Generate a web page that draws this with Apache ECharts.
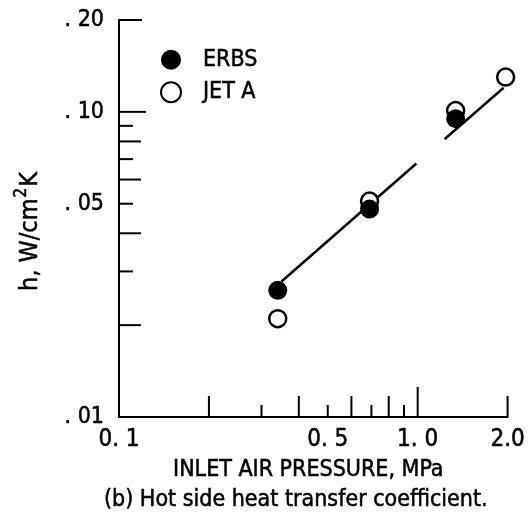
<!DOCTYPE html>
<html>
<head>
<meta charset="utf-8">
<script src="https://cdn.jsdelivr.net/npm/echarts@6/dist/echarts.min.js"></script>
<style>
  html, body { margin: 0; padding: 0; background: #fff; }
  #chart { width: 528px; height: 524px; }
</style>
</head>
<body>
<div id="chart"></div>
<script>
// Inlet air pressure (MPa) and hot side heat transfer coefficient (W/cm^2 K)
const erbsPressure = [0.34, 0.69, 1.34];
const erbsCoeff    = [0.026, 0.048, 0.095];
const jetPressure  = [0.34, 0.69, 1.34, 1.97];
const jetCoeff     = [0.021, 0.051, 0.101, 0.130];

// Correlation line, drawn as two pieces
const fitPressureA = [0.35, 0.99];
const fitCoeffA    = [0.0278, 0.0677];
const fitPressureB = [1.23, 1.94];
const fitCoeffB    = [0.0813, 0.120];

// Axis ranges, ticks and labels
const xRange = [0.1, 2.0];
const yRange = [0.01, 0.20];
const xTicksMain  = [1.0];
const xTicksLong  = [0.2, 0.4, 0.6, 0.8, 2.0];
const xTicksShort = [0.3, 0.5, 0.7, 0.9];
const yTicksMain  = [0.10];
const yTicksTop   = [0.20];
const yTicksLong  = [0.02, 0.04, 0.06, 0.08];
const yTicksShort = [0.03, 0.05, 0.07, 0.09];
const xLabels = [0.1, 0.5, 1.0, 2.0];
const xLabelText = ['0. 1', '0. 5', '1. 0', '2.0'];
const yLabels = [0.01, 0.05, 0.10, 0.20];
const yLabelText = ['. 01', '. 05', '. 10', '. 20'];

const FONT = "'DejaVu Sans Condensed', 'Liberation Sans Narrow', sans-serif";
const NARROW = "'Liberation Sans Narrow', 'DejaVu Sans Condensed', sans-serif";
const INK = '#000';
const HEAVY = { textBorderColor: INK, textBorderWidth: 0.5 };

function zip(xs, ys) { return xs.map((x, i) => [x, ys[i]]); }

// Tick marks drawn inward from the axis lines
function xTickSeries(values, len) {
  return {
    type: 'custom', coordinateSystem: 'cartesian2d', silent: true, z: 1,
    data: values.map(v => [v, yRange[0]]),
    renderItem: function (params, api) {
      const p = api.coord([api.value(0), api.value(1)]);
      return { type: 'line', shape: { x1: p[0], y1: p[1], x2: p[0], y2: p[1] - len },
               style: { stroke: INK, lineWidth: 2 } };
    }
  };
}
function yTickSeries(values, len) {
  return {
    type: 'custom', coordinateSystem: 'cartesian2d', silent: true, z: 1,
    data: values.map(v => [xRange[0], v]),
    renderItem: function (params, api) {
      const p = api.coord([api.value(0), api.value(1)]);
      return { type: 'line', shape: { x1: p[0], y1: p[1], x2: p[0] + len, y2: p[1] },
               style: { stroke: INK, lineWidth: 2 } };
    }
  };
}

function fmt(values, texts) {
  return function (v) {
    for (let i = 0; i < values.length; i++) {
      if (Math.abs(v - values[i]) < values[i] * 1e-3) return texts[i];
    }
    return '';
  };
}

const chart = echarts.init(document.getElementById('chart'), null, { renderer: 'canvas' });
chart.setOption({
  animation: false,
  backgroundColor: '#fff',
  textStyle: { fontFamily: FONT, color: INK },
  title: {
    text: '(b) Hot side heat transfer coefficient.',
    left: 99, top: 484,
    textStyle: Object.assign({ fontFamily: FONT, fontSize: 23, fontWeight: 'normal', color: INK }, HEAVY)
  },
  legend: {
    data: ['ERBS', 'JET A'],
    orient: 'vertical',
    left: 155, top: 43,
    itemWidth: 20, itemHeight: 20, itemGap: 9,
    icon: 'circle',
    textStyle: Object.assign({ fontFamily: NARROW, fontSize: 23, color: INK, padding: [0, 0, 0, 17] }, HEAVY)
  },
  grid: { left: 119, right: 19, top: 20, bottom: 107, containLabel: false },
  xAxis: {
    type: 'log', logBase: 10, min: xRange[0], max: xRange[1],
    name: 'INLET AIR PRESSURE, MPa', nameLocation: 'middle', nameGap: 42,
    nameTextStyle: Object.assign({ fontFamily: FONT, fontSize: 23, color: INK, padding: [0, 10, 0, 0] }, HEAVY),
    axisLine: { show: true, lineStyle: { color: INK, width: 2 } },
    axisTick: { show: false },
    splitLine: { show: false },
    axisLabel: Object.assign({
      customValues: xLabels, formatter: fmt(xLabels, xLabelText),
      margin: 11, fontFamily: NARROW, fontSize: 24, color: INK
    }, HEAVY)
  },
  yAxis: {
    type: 'log', logBase: 10, min: yRange[0], max: yRange[1],
    name: '{a|h, W/cm}{s|2}{a|K}', nameLocation: 'middle', nameRotate: 90, nameGap: 76,
    nameTextStyle: {
      fontFamily: FONT, fontSize: 25, color: INK, padding: [0, 26, 0, 0],
      rich: {
        a: Object.assign({ fontFamily: FONT, fontSize: 25, color: INK, lineHeight: 30, verticalAlign: 'bottom' }, HEAVY),
        s: Object.assign({ fontFamily: FONT, fontSize: 17, color: INK, lineHeight: 17, verticalAlign: 'top', padding: [0, 1, 0, 1] }, HEAVY)
      }
    },
    axisLine: { show: true, lineStyle: { color: INK, width: 2 } },
    axisTick: { show: false },
    splitLine: { show: false },
    axisLabel: Object.assign({
      customValues: yLabels, formatter: fmt(yLabels, yLabelText),
      margin: 15, fontFamily: NARROW, fontSize: 23, color: INK
    }, HEAVY)
  },
  series: [
    xTickSeries(xTicksMain, 30),
    xTickSeries(xTicksLong, 21),
    xTickSeries(xTicksShort, 12),
    yTickSeries(yTicksMain, 27),
    yTickSeries(yTicksTop, 23),
    yTickSeries(yTicksLong, 22),
    yTickSeries(yTicksShort, 14),
    {
      name: 'fitA', type: 'line', data: zip(fitPressureA, fitCoeffA),
      symbol: 'none', z: 2, silent: true,
      lineStyle: { color: INK, width: 2.5 }
    },
    {
      name: 'fitB', type: 'line', data: zip(fitPressureB, fitCoeffB),
      symbol: 'none', z: 2, silent: true,
      lineStyle: { color: INK, width: 2.5 }
    },
    {
      name: 'JET A', type: 'scatter', data: zip(jetPressure, jetCoeff),
      symbol: 'circle', symbolSize: 17, z: 3,
      itemStyle: { color: '#fff', borderColor: INK, borderWidth: 2.5, opacity: 1 }
    },
    {
      name: 'ERBS', type: 'scatter', data: zip(erbsPressure, erbsCoeff),
      symbol: 'circle', symbolSize: 19, z: 4,
      itemStyle: { color: INK, borderColor: INK, borderWidth: 0, opacity: 1 }
    }
  ]
});
</script>
</body>
</html>
